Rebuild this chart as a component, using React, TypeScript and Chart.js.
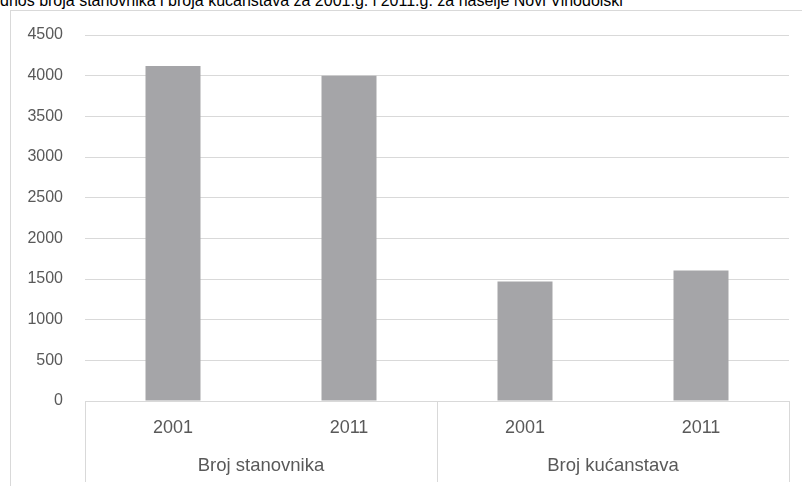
import React, { useEffect, useRef } from "react";
import { Chart, registerables } from "chart.js";

Chart.register(...registerables);

const titleText =
  "dnos broja stanovnika i broja kućanstava za 2001.g. i 2011.g. za naselje Novi Vinodolski";
const yearLabels = ["2001", "2011", "2001", "2011"];
const groupLabels = ["Broj stanovnika", "Broj kućanstava"];
const values = [4119, 3998, 1468, 1603];
const yMax = 4500;
const yStep = 500;

const FONT = "'Liberation Sans', Arial, sans-serif";
const TEXT = "#595959";
const LINE = "#d9d9d9";

const separatorPlugin = {
  id: "separators",
  afterDraw(chart: any) {
    const x = chart.scales.x;
    const ca = chart.chartArea;
    const ctx = chart.ctx;
    const mid = (x.getPixelForValue(1) + x.getPixelForValue(2)) / 2;
    const bottom = chart.height - 4;
    ctx.save();
    ctx.strokeStyle = LINE;
    ctx.lineWidth = 1;
    ctx.beginPath();
    ctx.moveTo(x.left, Math.round(ca.bottom) + 0.5);
    ctx.lineTo(x.right, Math.round(ca.bottom) + 0.5);
    [x.left, mid, x.right].forEach((px: number) => {
      const p = Math.round(px) + 0.5;
      ctx.moveTo(p, ca.bottom);
      ctx.lineTo(p, bottom);
    });
    ctx.stroke();
    ctx.restore();
  },
};

export default function App() {
  const ref = useRef<HTMLCanvasElement | null>(null);
  useEffect(() => {
    if (!ref.current) return;
    const chart = new Chart(ref.current, {
      type: "bar",
      data: {
        labels: yearLabels,
        datasets: [
          {
            data: values,
            backgroundColor: "#a5a5a8",
            barPercentage: 0.3125 / 0.8,
            categoryPercentage: 0.8,
          },
        ],
      },
      options: {
        responsive: false,
        animation: false,
        layout: { padding: { top: 24, right: 13, left: 0, bottom: 0 } },
        plugins: {
          legend: { display: false },
          tooltip: { enabled: false },
          title: { display: false },
        },
        scales: {
          y: {
            min: 0,
            max: yMax,
            ticks: {
              stepSize: yStep,
              color: TEXT,
              padding: 0,
              font: { family: FONT, size: 16 },
              callback: (v: any) => String(v),
            },
            grid: {
              color: LINE,
              drawTicks: true,
              tickLength: 22,
              tickColor: "rgba(0,0,0,0)",
              lineWidth: 1,
            },
            border: { display: false },
            afterFit: (s: any) => {
              s.width = 74;
            },
          },
          x: {
            type: "category",
            offset: true,
            ticks: {
              color: TEXT,
              padding: 16,
              maxRotation: 0,
              autoSkip: false,
              font: { family: FONT, size: 18 },
            },
            grid: { display: false, drawTicks: false },
            border: { display: false },
            afterFit: (s: any) => {
              s.height = 46;
            },
          },
          x2: {
            type: "category",
            position: "bottom",
            weight: 1,
            labels: groupLabels,
            offset: true,
            ticks: {
              color: TEXT,
              padding: 7.5,
              maxRotation: 0,
              autoSkip: false,
              font: { family: FONT, size: 18.5 },
            },
            grid: { display: false, drawTicks: false },
            border: { display: false },
            afterFit: (s: any) => {
              s.height = 39;
            },
          },
        },
      },
      plugins: [separatorPlugin],
    } as any);
    return () => chart.destroy();
  }, []);

  return (
    <div
      style={{
        position: "fixed",
        left: 0,
        top: 0,
        width: 802,
        height: 486,
        overflow: "hidden",
        background: "#fff",
      }}
    >
      <div
        style={{
          position: "absolute",
          left: 0,
          top: -8,
          fontFamily: FONT,
          fontSize: 16,
          lineHeight: "18px",
          color: "#000",
          whiteSpace: "nowrap",
        }}
      >
        {titleText}
      </div>
      <div
        style={{
          position: "absolute",
          left: 10,
          top: 10,
          width: 792,
          height: 476,
          borderLeft: `1px solid ${LINE}`,
          borderTop: `1px solid ${LINE}`,
        }}
      >
        <canvas
          ref={ref}
          width={791}
          height={475}
          style={{ display: "block", width: 791, height: 475 }}
        />
      </div>
    </div>
  );
}
